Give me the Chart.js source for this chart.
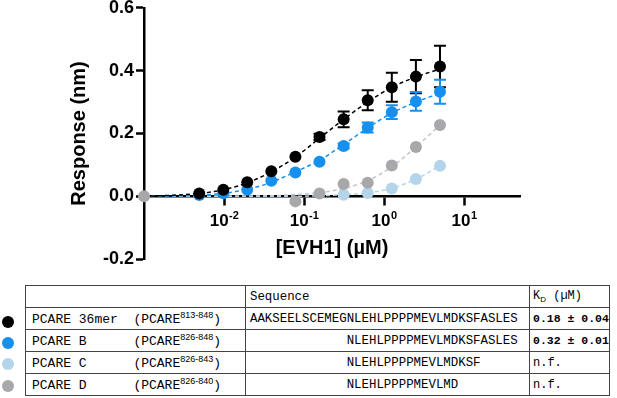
<!DOCTYPE html>
<html>
<head>
<meta charset="utf-8">
<script src="https://cdn.jsdelivr.net/npm/chart.js@4/dist/chart.umd.min.js"></script>
<style>
  html, body { margin: 0; padding: 0; background: #fff; }
  body { width: 617px; height: 398px; position: relative; overflow: hidden; }
  #chart-wrap { position: absolute; left: 0; top: -5px; width: 617px; height: 277px; }
  .dot { position: absolute; left: 2px; width: 12px; height: 12px; border-radius: 50%; }
  table { position: absolute; left: 25px; top: 285px; border-collapse: collapse; width: 584px; table-layout: fixed;
          font-family: "Liberation Mono", "DejaVu Sans Mono", monospace; color: #000; }
  td { border: 1px solid #444; height: 21px; padding: 0 6px; white-space: pre; font-size: 13px; overflow: hidden; }
  td.seq { font-size: 12.4px; padding-left: 4px; }
  td.kd { font-size: 11.5px; font-weight: bold; padding: 0 0 0 3px; }
  sup { font-family: "Liberation Sans", Arial, sans-serif; font-size: 9px; }
  sub { font-family: "Liberation Sans", Arial, sans-serif; font-size: 8px; }
</style>
</head>
<body>
<div id="chart-wrap"><canvas id="c"></canvas></div>

<div class="dot" style="top:316px;background:#000"></div>
<div class="dot" style="top:337px;background:#1590ee"></div>
<div class="dot" style="top:358px;background:#b4d4ea"></div>
<div class="dot" style="top:380px;background:#a8a8aa"></div>

<table>
  <colgroup><col style="width:220px"><col style="width:284px"><col style="width:80px"></colgroup>
  <tr><td></td><td class="seq">Sequence</td><td class="kd" style="font-weight:normal;font-size:12px">K<sub>D</sub> (µM)</td></tr>
  <tr><td>PCARE 36mer  (PCARE<sup>813-848</sup>)</td><td class="seq">AAKSEELSCEMEGNLEHLPPPPMEVLMDKSFASLES</td><td class="kd">0.18 ± 0.04</td></tr>
  <tr><td>PCARE B      (PCARE<sup>826-848</sup>)</td><td class="seq">             NLEHLPPPPMEVLMDKSFASLES</td><td class="kd">0.32 ± 0.01</td></tr>
  <tr><td>PCARE C      (PCARE<sup>826-843</sup>)</td><td class="seq">             NLEHLPPPPMEVLMDKSF</td><td class="kd" style="font-weight:normal;font-size:12px">n.f.</td></tr>
  <tr><td>PCARE D      (PCARE<sup>826-840</sup>)</td><td class="seq">             NLEHLPPPPMEVLMD</td><td class="kd" style="font-weight:normal;font-size:12px">n.f.</td></tr>
</table>

<script>
// EVH1 concentrations (µM), 2-fold dilution series
const conc = [0.001, 0.0049, 0.0098, 0.0195, 0.039, 0.078, 0.156, 0.3125, 0.625, 1.25, 2.5, 5];

// measured responses (nm)
const pcare36   = [null, 0.009, 0.021, 0.045, 0.080, 0.126, 0.189, 0.245, 0.306, 0.347, 0.381, 0.413];
const pcareB    = [null, 0.004, 0.010, 0.021, 0.050, 0.076, 0.110, 0.160, 0.219, 0.268, 0.302, 0.333];
const pcareC    = [null, null, null, null, null, null, null, 0.005, 0.011, 0.025, 0.055, 0.097];
const pcareD    = [0.000, null, null, null, null, -0.016, 0.009, 0.039, 0.043, 0.098, 0.157, 0.227];

// error bars (SD)
const pcare36Err = [0, 0, 0, 0, 0, 0, 0.010, 0.025, 0.032, 0.046, 0.053, 0.066];
const pcareBErr  = [0, 0, 0, 0, 0, 0, 0, 0.008, 0.016, 0.022, 0.030, 0.038];

// fitted curves
const pcare36Fit = [0.000, 0.009, 0.021, 0.043, 0.078, 0.125, 0.185, 0.245, 0.300, 0.347, 0.380, 0.405];
const pcareBFit  = [0.000, 0.004, 0.010, 0.022, 0.045, 0.078, 0.115, 0.165, 0.218, 0.265, 0.300, 0.328];
const pcareCFit  = [0.000, 0.000, 0.000, 0.000, 0.000, 0.000, 0.002, 0.005, 0.011, 0.026, 0.055, 0.097];
const pcareDFit  = [0.000, 0.000, 0.000, 0.001, 0.002, 0.005, 0.012, 0.025, 0.050, 0.094, 0.157, 0.227];

const xTicks = [0.01, 0.1, 1, 10];
const xTickExp = ['-2', '-1', '0', '1'];
const yTicks = [-0.2, 0, 0.2, 0.4, 0.6];

const colors = { black: '#000000', blue: '#1590ee', light: '#b4d4ea', grey: '#a8a8aa' };

const pts = (arr) => conc.map((x, i) => ({ x, y: arr[i] })).filter(p => p.y != null);

function pointSet(data, color, order) {
  return { type: 'scatter', data: pts(data), backgroundColor: color, borderColor: color,
           pointRadius: 6, pointHoverRadius: 6, borderWidth: 0, showLine: false, order, clip: false };
}
function fitSet(data, color, order) {
  return { type: 'line', data: pts(data), borderColor: color, borderWidth: 1.5, borderDash: [4, 3],
           pointRadius: 0, fill: false, cubicInterpolationMode: 'monotone', order };
}

// error bars + superscript x tick labels + x title
const extras = {
  id: 'extras',
  beforeDatasetsDraw(chart) {
    const { ctx, scales: { x, y } } = chart;
    const bars = [[pcare36, pcare36Err, colors.black], [pcareB, pcareBErr, colors.blue]];
    ctx.save();
    ctx.lineWidth = 2;
    bars.forEach(([vals, errs, col]) => {
      ctx.strokeStyle = col;
      conc.forEach((c, i) => {
        if (vals[i] == null || !errs[i]) return;
        const px = x.getPixelForValue(c);
        const top = y.getPixelForValue(vals[i] + errs[i]);
        const bot = y.getPixelForValue(vals[i] - errs[i]);
        ctx.beginPath();
        ctx.moveTo(px, top); ctx.lineTo(px, bot);
        ctx.moveTo(px - 6, top); ctx.lineTo(px + 6, top);
        ctx.moveTo(px - 6, bot); ctx.lineTo(px + 6, bot);
        ctx.stroke();
      });
    });
    ctx.restore();
  },
  afterDraw(chart) {
    const { ctx, scales: { x, y }, chartArea } = chart;
    const y0 = y.getPixelForValue(0);
    ctx.save();
    ctx.fillStyle = '#000';
    ctx.textBaseline = 'alphabetic';
    xTicks.forEach((v, i) => {
      const px = x.getPixelForValue(v);
      ctx.font = 'bold 17px "Liberation Sans", Arial, sans-serif';
      const wBase = ctx.measureText('10').width;
      ctx.font = 'bold 11px "Liberation Sans", Arial, sans-serif';
      const wExp = ctx.measureText(xTickExp[i]).width;
      const start = px - (wBase + wExp) / 2;
      ctx.font = 'bold 17px "Liberation Sans", Arial, sans-serif';
      ctx.textAlign = 'left';
      ctx.fillText('10', start, y0 + 30);
      ctx.font = 'bold 11px "Liberation Sans", Arial, sans-serif';
      ctx.fillText(xTickExp[i], start + wBase + 0.5, y0 + 23);
    });
    ctx.font = 'bold 20px "Liberation Sans", Arial, sans-serif';
    ctx.textAlign = 'center';
    ctx.fillText('[EVH1] (µM)', (chartArea.left + chartArea.right) / 2, y0 + 58);
    ctx.restore();
  }
};

new Chart(document.getElementById('c'), {
  data: {
    datasets: [
      pointSet(pcareD, colors.grey, 1),
      pointSet(pcare36, colors.black, 2),
      pointSet(pcareB, colors.blue, 3),
      pointSet(pcareC, colors.light, 4),
      fitSet(pcare36Fit, colors.black, 5),
      fitSet(pcareBFit, colors.blue, 6),
      fitSet(pcareCFit, colors.light, 7),
      fitSet(pcareDFit, '#c4c4c6', 8)
    ]
  },
  options: {
    responsive: true,
    maintainAspectRatio: false,
    animation: false,
    layout: { padding: { left: 67, right: 97, top: 2, bottom: 12 } },
    plugins: { legend: { display: false }, tooltip: { enabled: false } },
    scales: {
      x: {
        type: 'logarithmic',
        position: { y: 0 },
        min: 0.001,
        max: 50,
        afterBuildTicks: (scale) => { scale.ticks = xTicks.map(v => ({ value: v })); },
        ticks: { display: false },
        grid: { drawOnChartArea: false, drawTicks: true, tickLength: 8, tickColor: '#000', tickWidth: 2.5 },
        border: { display: true, color: '#000', width: 2.5 }
      },
      y: {
        type: 'linear',
        min: -0.2,
        max: 0.6,
        afterBuildTicks: (scale) => { scale.ticks = yTicks.map(v => ({ value: v })); },
        ticks: {
          color: '#000',
          padding: 2,
          font: { family: '"Liberation Sans", Arial, sans-serif', size: 18, weight: 'bold' },
          callback: (v) => v.toFixed(1)
        },
        grid: { drawOnChartArea: false, drawTicks: true, tickLength: 8, tickColor: '#000', tickWidth: 2.5 },
        border: { display: true, color: '#000', width: 2.5 },
        title: {
          display: true,
          text: 'Response (nm)',
          color: '#000',
          padding: { top: 0, bottom: 10 },
          font: { family: '"Liberation Sans", Arial, sans-serif', size: 20, weight: 'bold' }
        }
      }
    }
  },
  plugins: [extras]
});
</script>
</body>
</html>
